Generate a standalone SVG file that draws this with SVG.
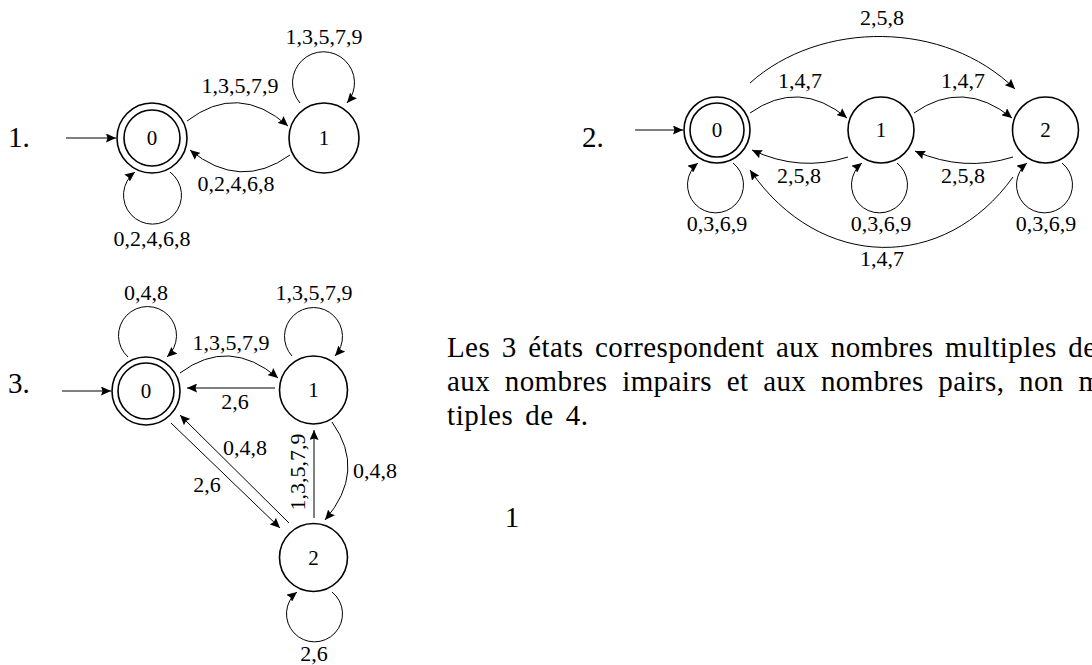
<svg xmlns="http://www.w3.org/2000/svg" width="1092" height="665" viewBox="0 0 1092 665">
<defs>
<marker id="arr" markerUnits="userSpaceOnUse" markerWidth="11" markerHeight="9" refX="10" refY="4.5" orient="auto" viewBox="0 0 11 9">
<path d="M0,0 L10,4.5 L0,9 L1.5,4.5 Z" fill="#000"/>
</marker>
<style>
.st{fill:none;stroke:#000;stroke-width:1.6}
.e{fill:none;stroke:#000;stroke-width:1;marker-end:url(#arr)}
.lb{font-family:"Liberation Serif","Times New Roman",serif;font-size:22px;fill:#000;text-anchor:middle}
.sl{font-family:"Liberation Serif","Times New Roman",serif;font-size:21px;fill:#000;text-anchor:middle}
.big{font-family:"Liberation Serif","Times New Roman",serif;font-size:29px;fill:#000}
</style>
</defs>
<rect width="1092" height="665" fill="#fff"/>

<!-- Diagram 1 -->
<text class="big" x="8" y="147">1.</text>
<g id="d1-s0"><circle class="st" cx="152" cy="138" r="35"/><circle class="st" cx="152" cy="138" r="28"/><text class="sl" x="152" y="145">0</text></g>
<g id="d1-s1"><circle class="st" cx="324" cy="138" r="35"/><text class="sl" x="324" y="145">1</text></g>
<g id="d1-edges">
<path class="e" d="M66,138 L116,138"/>
<path class="e" d="M187,121 Q238,82 288,126"/>
<path class="e" d="M290,155 Q240,191 190,150"/>
<path class="e" d="M300,103 A31,31 0 1 1 347,103"/>
<path class="e" d="M170,172 A29,29 0 1 1 135,172"/>
<text class="lb" x="240" y="93">1,3,5,7,9</text>
<text class="lb" x="236" y="191">0,2,4,6,8</text>
<text class="lb" x="324" y="44">1,3,5,7,9</text>
<text class="lb" x="152" y="246">0,2,4,6,8</text>
</g>

<!-- Diagram 2 -->
<text class="big" x="582" y="147">2.</text>
<g id="d2-s0"><circle class="st" cx="717" cy="130" r="33"/><circle class="st" cx="717" cy="130" r="27"/><text class="sl" x="717" y="137">0</text></g>
<g id="d2-s1"><circle class="st" cx="881" cy="130" r="33"/><text class="sl" x="881" y="137">1</text></g>
<g id="d2-s2"><circle class="st" cx="1045.5" cy="130" r="33"/><text class="sl" x="1045.5" y="137">2</text></g>
<g id="d2-edges">
<path class="e" d="M635,130 L683,130"/>
<path class="e" d="M750,113 Q799,78.5 847,118"/>
<path class="e" d="M914,113 Q963,78.5 1012,118"/>
<path class="e" d="M848,157 Q800,172.5 752,150"/>
<path class="e" d="M1013,157 Q964,172.5 915,151"/>
<path class="e" d="M750,83 C820,20 945,20 1015,89"/>
<path class="e" d="M1013,177 C945,272 820,272 750,170"/>
<path class="e" d="M733,163 A28,28 0 1 1 698,163"/>
<path class="e" d="M897,163 A28,28 0 1 1 862,163"/>
<path class="e" d="M1062,163 A28,28 0 1 1 1027,163"/>
<text class="lb" x="800" y="88">1,4,7</text>
<text class="lb" x="963" y="88">1,4,7</text>
<text class="lb" x="799" y="183">2,5,8</text>
<text class="lb" x="963" y="183">2,5,8</text>
<text class="lb" x="882" y="25">2,5,8</text>
<text class="lb" x="882" y="266">1,4,7</text>
<text class="lb" x="717" y="231">0,3,6,9</text>
<text class="lb" x="881" y="231">0,3,6,9</text>
<text class="lb" x="1046" y="231">0,3,6,9</text>
</g>

<!-- Diagram 3 -->
<text class="big" x="8" y="393">3.</text>
<g id="d3-s0"><circle class="st" cx="146" cy="391" r="34"/><circle class="st" cx="146" cy="391" r="28"/><text class="sl" x="146" y="398">0</text></g>
<g id="d3-s1"><circle class="st" cx="313.5" cy="390" r="34"/><text class="sl" x="313.5" y="397">1</text></g>
<g id="d3-s2"><circle class="st" cx="313.5" cy="557.5" r="34"/><text class="sl" x="313.5" y="564.5">2</text></g>
<g id="d3-edges">
<path class="e" d="M62,391 L111,391"/>
<path class="e" d="M180,373 Q229,336.5 278,378"/>
<path class="e" d="M275,388 L187,388"/>
<path class="e" d="M171,423 L280,528"/>
<path class="e" d="M289,523 L180,415"/>
<path class="e" d="M314,518 L314,430"/>
<path class="e" d="M332,422 Q367,471 325,520"/>
<path class="e" d="M128,357 A29,29 0 1 1 167,357"/>
<path class="e" d="M292,356 A29,29 0 1 1 335,356"/>
<path class="e" d="M332,592 A28,28 0 1 1 297,592"/>
<text class="lb" x="231" y="350">1,3,5,7,9</text>
<text class="lb" x="235" y="409">2,6</text>
<text class="lb" x="207" y="492">2,6</text>
<text class="lb" x="245" y="455">0,4,8</text>
<text class="lb" x="305" y="472" transform="rotate(-90 305 472)">1,3,5,7,9</text>
<text class="lb" x="353" y="478" style="text-anchor:start">0,4,8</text>
<text class="lb" x="146" y="300">0,4,8</text>
<text class="lb" x="314" y="300">1,3,5,7,9</text>
<text class="lb" x="314" y="661">2,6</text>
</g>

<!-- Paragraph -->
<g id="paragraph">
<text class="big" x="447" y="357" textLength="649" word-spacing="4">Les 3 états correspondent aux nombres multiples de</text>
<text class="big" x="447" y="391" textLength="654" word-spacing="7">aux nombres impairs et aux nombres pairs, non m</text>
<text class="big" x="447" y="425" textLength="141" word-spacing="4">tiples de 4.</text>
<text class="big" x="512" y="527" style="text-anchor:middle">1</text>
</g>
</svg>
